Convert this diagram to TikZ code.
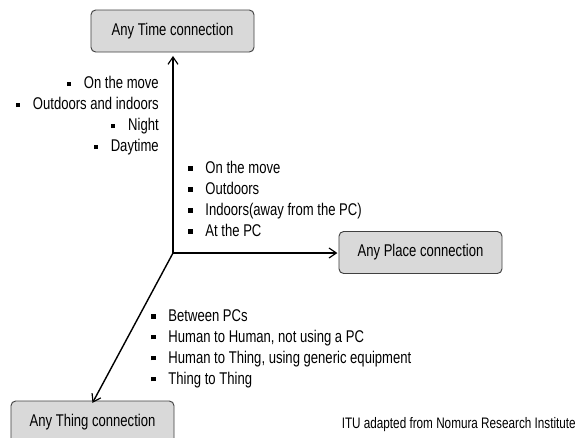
\documentclass[tikz,border=0pt]{standalone}
\usepackage{fontspec}
\setmainfont{Liberation Sans}[FakeStretch=0.77]
\usetikzlibrary{arrows.meta}
\newcommand{\sq}{\rule[0.3ex]{0.5ex}{0.5ex}\hspace{0.75em}}
\tikzset{
  anybox/.style={draw=black!75, fill=black!15, rounded corners=4pt, line width=0.8pt,
    minimum width=4.89cm, minimum height=1.26cm, inner sep=0pt},
  axis/.style={line width=1.2pt, -{Straight Barb[length=2.2mm,width=3mm,line width=1pt]}},
  list/.style={inner sep=0pt}
}
\begin{document}
\begin{tikzpicture}[x=0.03cm, y=-0.03cm, font=\fontsize{14.5pt}{17.9pt}\selectfont]
  \useasboundingbox (0,0) rectangle (577,437);
  \draw
    (172.5,31) node[anybox] (time) {Any Time connection}
    (420.5,252.5) node[anybox] (place) {Any Place connection}
    (92.5,422) node[anybox] (thing) {Any Thing connection};
  \coordinate (o) at (173,253);
  \begin{scope}[axis]
    \draw (o) to ([yshift=-3]time.south -| o);
    \draw (o) to ([xshift=-1]place.west |- o);
    \draw (o) to ([yshift=-2]thing.north);
  \end{scope}
  \node[list, anchor=east, align=right] (timelist) at (159,116)
    {\sq On the move\\ \sq Outdoors and indoors\\ \sq Night\\ \sq Daytime};
  \node[list, anchor=west, align=left] (placelist) at (188,199)
    {\sq On the move\\ \sq Outdoors\\ \sq Indoors(away from the PC)\\ \sq At the PC};
  \node[list, anchor=west, align=left] (thinglist) at (151,348.5)
    {\sq Between PCs\\ \sq Human to Human, not using a PC\\ \sq Human to Thing, using generic equipment\\ \sq Thing to Thing};
  \node[list, anchor=east, font=\fontsize{13pt}{16pt}\selectfont] (source) at (576,425)
    {ITU adapted from Nomura Research Institute};
\end{tikzpicture}
\end{document}
